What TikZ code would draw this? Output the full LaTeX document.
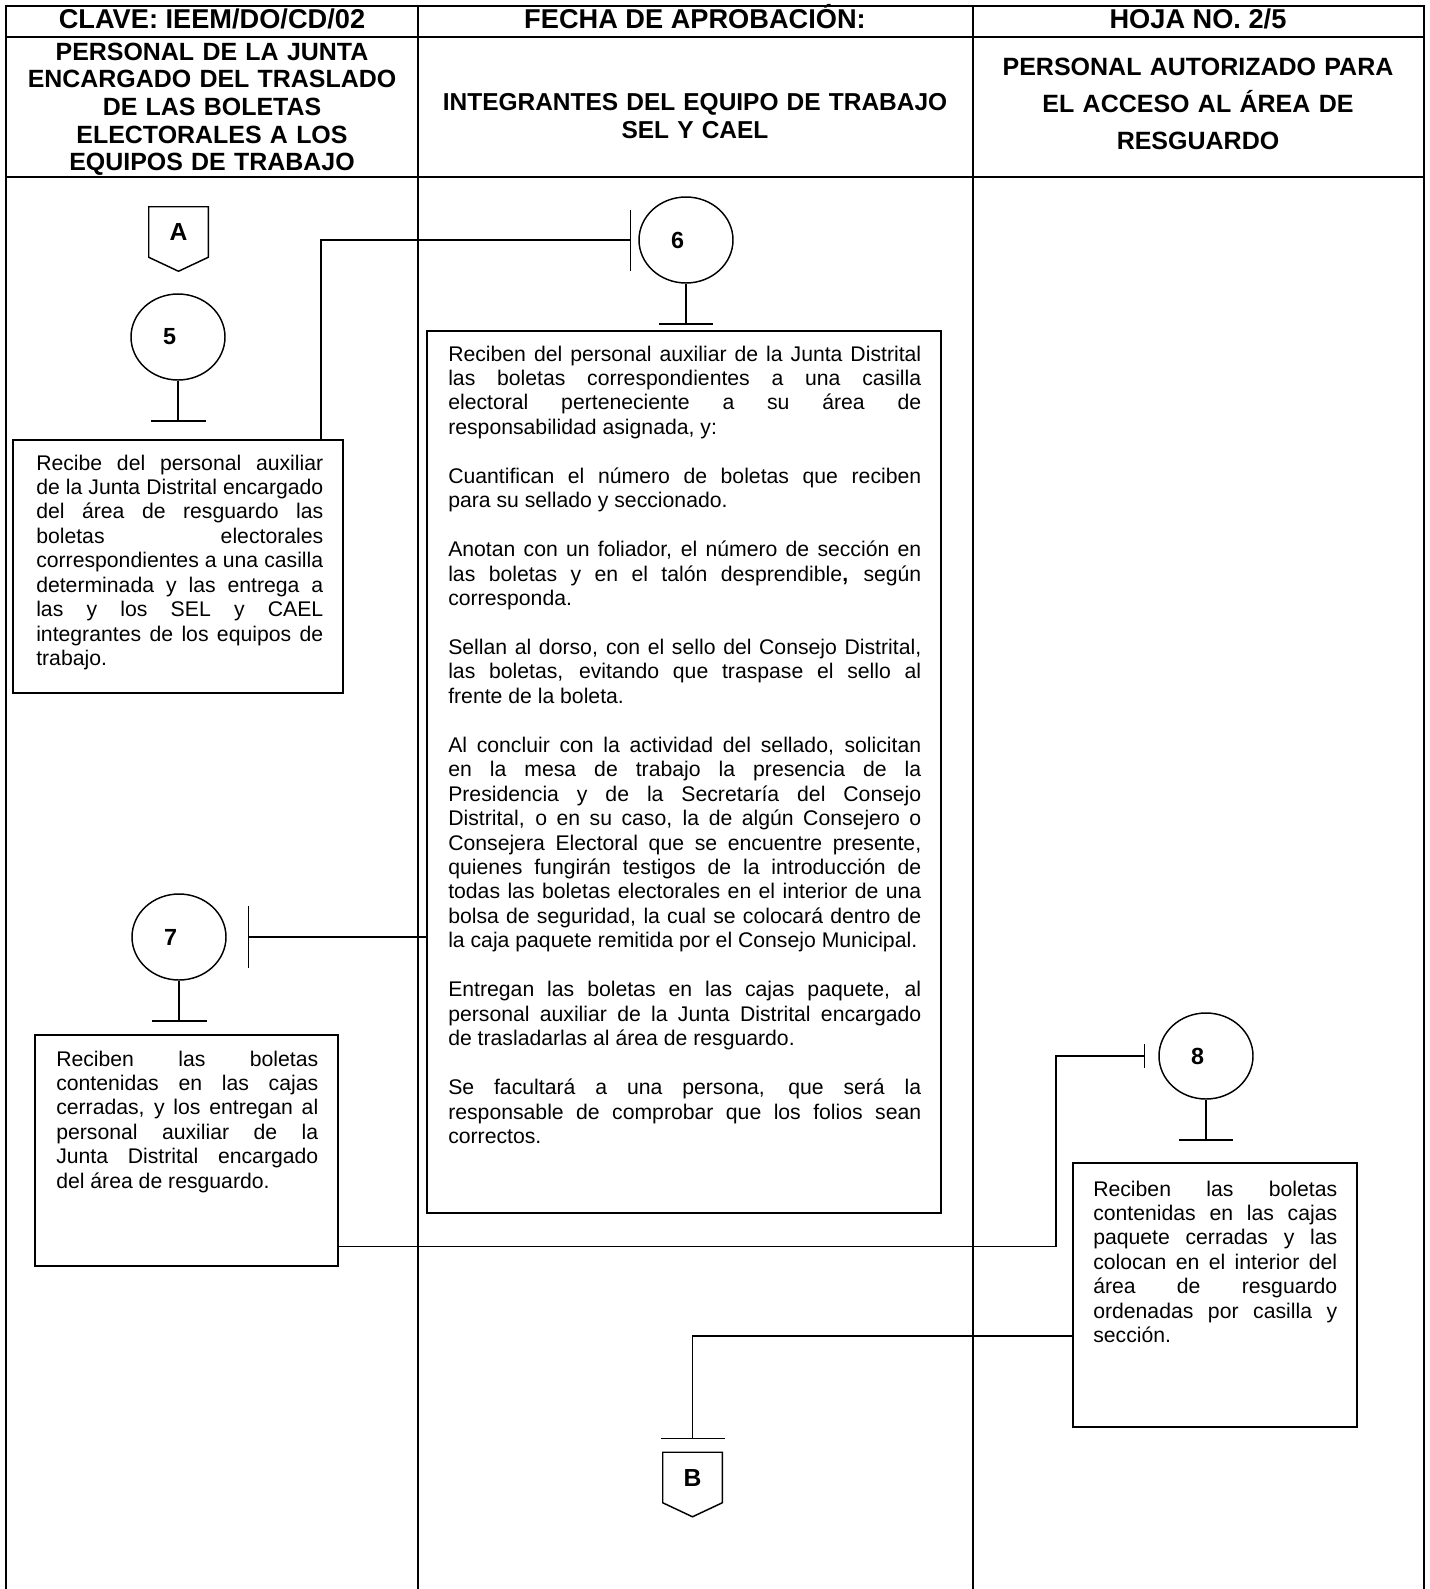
\documentclass[tikz,border=0pt]{standalone}
\usepackage{fontspec}
\setmainfont{Liberation Sans}
\usetikzlibrary{shapes.geometric,fit,arrows.meta}

\newlength\px
\setlength\px{0.75pt}
\newcommand{\ajuste}{\parskip=18.34pt\parindent=0pt\hyphenpenalty=10000\tolerance=9999\hbadness=10000\relax}

\tikzset{
  marco/.style={line width=1.5pt},
  linea/.style={line width=1.1pt},
  barra/.style={-{Bar[width=#1]}},
  caja/.style={draw, line width=1.4pt, inner sep=0pt},
  paso/.style={ellipse, draw, line width=1.1pt, minimum width=94\px, minimum height=86\px,
    inner sep=0pt, text width=30\px, align=left, font=\bfseries\fontsize{17.5}{20}\selectfont},
  conector/.style={minimum width=59\px, minimum height=50\px, inner sep=0pt,
    font=\bfseries\fontsize{18.5}{22}\selectfont},
  enc/.style={anchor=base, inner sep=0pt, font=\bfseries\fontsize{20.4}{24}\selectfont},
  carril/.style={anchor=base, inner sep=0pt, align=center, text width=#1},
  texto/.style={anchor=base west, inner sep=0pt, align=justify, text width=#1,
    font=\fontsize{15.9}{18.34}\selectfont},
}

\begin{document}
\begin{tikzpicture}[x=0.75pt, y=-0.75pt]
\useasboundingbox (0,0) rectangle (1429,1589);

% marco de la hoja
\draw[marco] (6,1589) -- (6,6) -- (1424,6) -- (1424,1589);
\draw[marco] (418,6) -- (418,1589);
\draw[marco] (973,6) -- (973,1589);
\draw[marco] (6,37) -- (1424,37);
\draw[marco] (6,177) -- (1424,177);

% encabezado
\node[enc] (clave) at (212,28) {CLAVE: IEEM/DO/CD/02};
\node[enc] (fecha) at (695,28) {FECHA DE APROBACIÓN:};
\node[enc] (hoja) at (1198,28) {HOJA NO. 2/5};

\node[carril=410\px, font=\bfseries\fontsize{18.7}{20.8}\selectfont] (carril1) at (212,60)
  {PERSONAL DE LA JUNTA\\ENCARGADO DEL TRASLADO\\DE LAS BOLETAS\\ELECTORALES A LOS\\EQUIPOS DE TRABAJO};
\node[carril=550\px, font=\bfseries\fontsize{18.35}{21.4}\selectfont] (carril2) at (695,110)
  {INTEGRANTES DEL EQUIPO DE TRABAJO\\SEL Y CAEL};
\node[carril=448\px, font=\bfseries\fontsize{18.75}{27.75}\selectfont] (carril3) at (1198,75)
  {PERSONAL AUTORIZADO PARA\\EL ACCESO AL ÁREA DE\\RESGUARDO};

% conector de entrada
\node[conector] (A) at (178.5,232) {A};
\draw[linea] (A.north west) -- (A.north east) -- (A.south east) -- ([yshift=-14\px]A.south)
  -- (A.south west) -- cycle;

% actividad 5
\node[paso] (c5) at (178,337) {5};
\draw[linea, barra=41.25pt] (c5.south) -- ++(0,41);
\node[caja, fit={(13,440) (343,693)}] (b5) {};
\node[texto=287\px] (t5) at (36,470) {\ajuste
Recibe del personal auxiliar\linebreak
de la Junta Distrital encargado\linebreak
del área de resguardo las\linebreak
boletas electorales\linebreak
correspondientes a una casilla\linebreak
determinada y las entrega a\linebreak
las y los SEL y CAEL\linebreak
integrantes de los equipos de\linebreak
trabajo.};

% actividad 6
\node[paso] (c6) at (686,240) {6};
\draw[linea, barra=40.5pt] (c6.south) -- ++(0,41);
\draw[linea, barra=45.75pt] ([xshift=143\px]b5.north) |- ([xshift=-7\px]c6.west);
\node[caja, fit={(427,331) (941,1213)}] (b6) {};
\node[texto=473\px] (t6) at (448,361) {\ajuste
Reciben del personal auxiliar de la Junta Distrital\linebreak
las boletas correspondientes a una casilla\linebreak
electoral perteneciente a su área de\linebreak
responsabilidad asignada, y:\par
Cuantifican el número de boletas que reciben\linebreak
para su sellado y seccionado.\par
Anotan con un foliador, el número de sección en\linebreak
las boletas y en el talón desprendible\textbf{,} según\linebreak
corresponda.\par
Sellan al dorso, con el sello del Consejo Distrital,\linebreak
las boletas, evitando que traspase el sello al\linebreak
frente de la boleta.\par
Al concluir con la actividad del sellado, solicitan\linebreak
en la mesa de trabajo la presencia de la\linebreak
Presidencia y de la Secretaría del Consejo\linebreak
Distrital, o en su caso, la de algún Consejero o\linebreak
Consejera Electoral que se encuentre presente,\linebreak
quienes fungirán testigos de la introducción de\linebreak
todas las boletas electorales en el interior de una\linebreak
bolsa de seguridad, la cual se colocará dentro de\linebreak
la caja paquete remitida por el Consejo Municipal.\par
Entregan las boletas en las cajas paquete, al\linebreak
personal auxiliar de la Junta Distrital encargado\linebreak
de trasladarlas al área de resguardo.\par
Se facultará a una persona, que será la\linebreak
responsable de comprobar que los folios sean\linebreak
correctos.};

% actividad 7
\node[paso] (c7) at (179,937) {7};
\draw[linea, barra=41.25pt] (c7.south) -- ++(0,41);
\draw[linea, barra=46.5pt] (b6.west |- c7.east) -- ([xshift=21\px]c7.east);
\node[caja, fit={(35,1035) (338,1266)}] (b7) {};
\node[texto=262\px] (t7) at (56,1066) {\ajuste
Reciben las boletas\linebreak
contenidas en las cajas\linebreak
cerradas, y los entregan al\linebreak
personal auxiliar de la\linebreak
Junta Distrital encargado\linebreak
del área de resguardo.};

% actividad 8
\node[paso] (c8) at (1206,1056) {8};
\draw[linea, barra=40.5pt] (c8.south) -- ++(0,41);
\coordinate (q8) at (1056,1150);
\draw[linea, barra=18pt] ([yshift=-96\px]b7.east) -| (q8) |- ([xshift=-13\px]c8.west);
\node[caja, fit={(1073,1163) (1357,1427)}] (b8) {};
\node[texto=244\px] (t8) at (1093,1196) {\ajuste
Reciben las boletas\linebreak
contenidas en las cajas\linebreak
paquete cerradas y las\linebreak
colocan en el interior del\linebreak
área de resguardo\linebreak
ordenadas por casilla y\linebreak
sección.};

% conector de salida
\node[conector] (B) at (692.5,1477.5) {B};
\draw[linea] (B.north west) -- (B.north east) -- (B.south east) -- ([yshift=-14\px]B.south)
  -- (B.south west) -- cycle;
\draw[linea, barra=48pt] ([yshift=-41\px]b8.west) -| ([yshift=13\px]B.north);
\end{tikzpicture}
\end{document}
